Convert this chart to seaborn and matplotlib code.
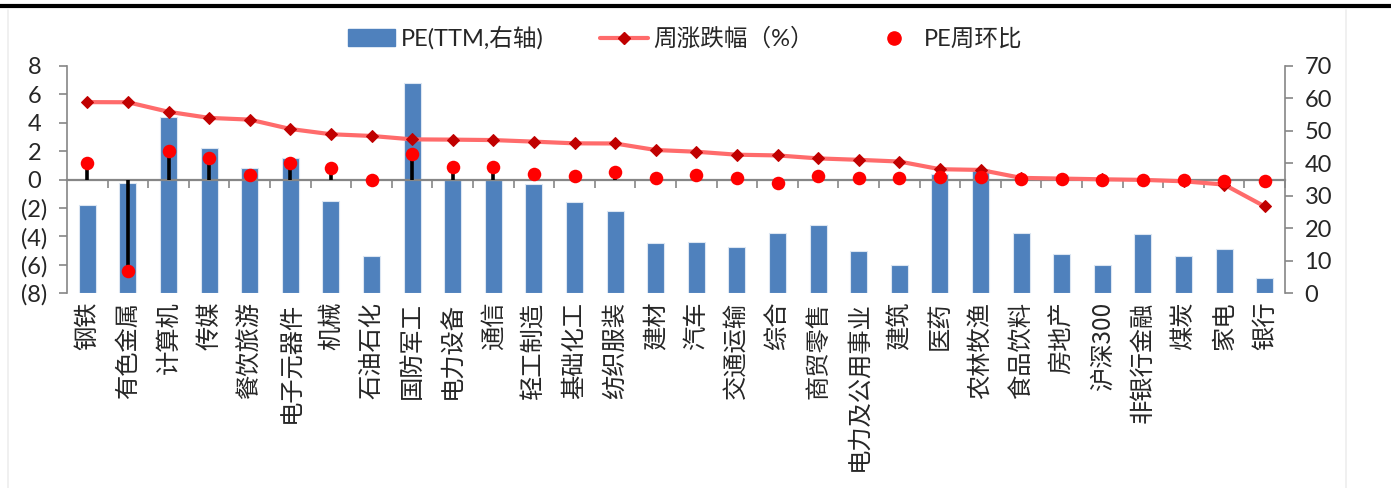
import numpy as np
import pandas as pd
import matplotlib
matplotlib.use("Agg")
import matplotlib.pyplot as plt
from matplotlib.patches import Patch
from matplotlib.lines import Line2D
from matplotlib.ticker import FuncFormatter, FixedLocator
import seaborn as sns

# ---- data ----
industries = ['钢铁', '有色金属', '计算机', '传媒', '餐饮旅游', '电子元器件', '机械',
              '石油石化', '国防军工', '电力设备', '通信', '轻工制造', '基础化工', '纺织服装',
              '建材', '汽车', '交通运输', '综合', '商贸零售', '电力及公用事业', '建筑',
              '医药', '农林牧渔', '食品饮料', '房地产', '沪深300', '非银行金融', '煤炭',
              '家电', '银行']
pe_ttm = [27.2, 34.1, 54.3, 44.6, 38.6, 41.7, 28.4, 11.6, 64.8, 34.9, 34.9, 33.7,
          28.1, 25.4, 15.5, 15.7, 14.2, 18.6, 21.1, 13.1, 8.7, 36.6, 38.4, 18.7,
          12.0, 8.6, 18.3, 11.4, 13.7, 4.7]
weekly_change = [5.45, 5.44, 4.77, 4.34, 4.22, 3.56, 3.19, 3.07, 2.83, 2.81, 2.78,
                 2.67, 2.55, 2.54, 2.08, 1.96, 1.75, 1.70, 1.49, 1.39, 1.27, 0.73,
                 0.68, 0.12, 0.07, 0.02, -0.02, -0.12, -0.35, -1.89]
pe_wow = [1.18, -6.44, 2.01, 1.53, 0.33, 1.16, 0.83, 0.0, 1.77, 0.90, 0.87, 0.40,
          0.24, 0.54, 0.14, 0.31, 0.14, -0.21, 0.24, 0.09, 0.10, 0.19, 0.19, 0.05,
          0.05, 0.0, 0.0, -0.05, -0.12, -0.09]
left_ticks = [-8, -6, -4, -2, 0, 2, 4, 6, 8]
right_ticks = [0, 10, 20, 30, 40, 50, 60, 70]

legend_labels = ['PE(TTM,右轴)', '周涨跌幅（%）', 'PE周环比']

# ---- style ----
sns.set_style("white")
plt.rcParams['font.family'] = ['Lato', 'Noto Sans CJK SC', 'DejaVu Sans']
plt.rcParams['axes.unicode_minus'] = False

BAR = '#4F81BD'
LINE = '#FF6B6B'
DIAMOND = '#C00000'
DOT = '#FF0000'
GRAY = '#868686'

df = pd.DataFrame({'industry': industries, 'pe': pe_ttm,
                   'chg': weekly_change, 'wow': pe_wow})
df['pos'] = np.arange(len(df))

fig = plt.figure(figsize=(13.91, 4.88), dpi=100)
ax = fig.add_axes([0.0482, 0.399, 0.8756, 0.466])
ax2 = ax.twinx()

# bars on the right-hand axis
sns.barplot(data=df, x='industry', y='pe', ax=ax2, color=BAR, saturation=1,
            width=0.42, edgecolor='#DCE6F2', linewidth=0.8, zorder=1)
ax2.set_ylim(0, 70)
ax2.yaxis.set_major_locator(FixedLocator(right_ticks))

# stems, line and dots on the left-hand axis
ax.vlines(df['pos'], 0, df['wow'], color='black', linewidth=2.6, zorder=3)
sns.lineplot(data=df, x='pos', y='chg', ax=ax, color=LINE, linewidth=3,
             marker='D', markersize=6.5, markerfacecolor=DIAMOND,
             markeredgecolor=DIAMOND, sort=False, zorder=4)
sns.scatterplot(data=df, x='pos', y='wow', ax=ax, color=DOT, s=95,
                edgecolor=DOT, linewidth=0, zorder=5)

ax.set_ylim(-8, 8)
ax.set_xlim(-0.5, len(df) - 0.5)
ax.yaxis.set_major_locator(FixedLocator(left_ticks))
# accounting style: negatives in parentheses, positives padded on the right
ax.yaxis.set_major_formatter(FuncFormatter(
    lambda v, p: f'({abs(int(v))})' if v < 0 else f'{int(v)} '))

# stack: line axes above bar axes
ax.set_zorder(ax2.get_zorder() + 1)
ax.patch.set_visible(False)

for a in (ax, ax2):
    a.set_xlabel('')
    a.set_ylabel('')
    a.spines['top'].set_visible(False)

# left axis: spines / ticks
ax.spines['left'].set_color(GRAY)
ax.spines['left'].set_linewidth(1.2)
ax.spines['right'].set_visible(False)
ax.spines['bottom'].set_position(('data', 0))
ax.spines['bottom'].set_color(GRAY)
ax.spines['bottom'].set_linewidth(1.6)
ax.tick_params(axis='y', which='major', direction='out', length=6, width=1.2,
               color=GRAY, labelsize=17, pad=8, left=True)
ax.set_xticks(np.arange(len(df)) + 0.5, minor=True)
ax.tick_params(axis='x', which='major', length=0, labelbottom=False)
ax.tick_params(axis='x', which='minor', direction='out', length=6, width=1.2,
               color=GRAY, bottom=True)

# right axis: spines / ticks, category labels at bottom
ax2.spines['right'].set_color(GRAY)
ax2.spines['right'].set_linewidth(1.2)
ax2.spines['left'].set_visible(False)
ax2.spines['bottom'].set_visible(False)
ax2.tick_params(axis='y', which='major', direction='out', length=6, width=1.2,
                color=GRAY, labelsize=17, pad=8, right=True)
ax2.xaxis.set_visible(True)
ax2.tick_params(axis='x', which='both', bottom=False, length=0,
                labelbottom=True, pad=6)
ax2.set_xticks(np.arange(len(df)))
ax2.set_xticklabels(industries, rotation=90, va='top', ha='center',
                    fontsize=17.5, family=['Noto Sans CJK SC', 'DejaVu Sans'])

# legend
handles = [
    Patch(facecolor=BAR, edgecolor=BAR),
    Line2D([0], [0], color=LINE, linewidth=3, marker='D', markersize=6.5,
           markerfacecolor=DIAMOND, markeredgecolor=DIAMOND),
    Line2D([0], [0], linestyle='none', marker='o', markersize=9.5,
           markerfacecolor=DOT, markeredgecolor=DOT),
]
fig.legend(handles, legend_labels, loc='center', bbox_to_anchor=(0.4925, 0.922),
           ncol=3, frameon=False, fontsize=17, handlelength=2.0,
           handleheight=0.7, handletextpad=0.25, columnspacing=2.4)

# frame decorations
fig.add_artist(Line2D([0, 1], [0.987, 0.987], color='black', linewidth=3,
                      transform=fig.transFigure))
fig.add_artist(Line2D([0.0061, 0.0061], [0, 0.98], color='#EEEEEE', linewidth=1.2,
                      transform=fig.transFigure))
fig.add_artist(Line2D([0.9677, 0.9677], [0, 0.98], color='#EEEEEE', linewidth=1.2,
                      transform=fig.transFigure))

fig.savefig('out.png', dpi=100, facecolor='white')
